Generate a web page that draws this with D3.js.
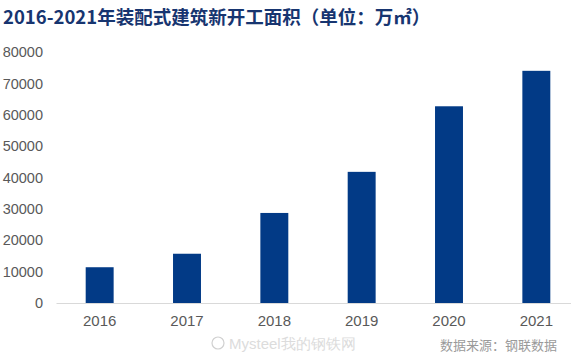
<!DOCTYPE html>
<html>
<head>
<meta charset="utf-8">
<script src="https://cdn.jsdelivr.net/npm/d3@7"></script>
<style>
body { margin: 0; background: #fff; }
svg { display: block; }
</style>
</head>
<body>
<svg id="chart"></svg>
<script>
var width = 571;
var height = 359;

var years = ["2016", "2017", "2018", "2019", "2020", "2021"];
var area = [11400, 15700, 28700, 41800, 62700, 74000];
var yTicks = [0, 10000, 20000, 30000, 40000, 50000, 60000, 70000, 80000];

var svg = d3.select("#chart")
	.attr("width", width)
	.attr("height", height);

var x = d3.scaleBand()
	.domain(years)
	.range([56, 580])
	.paddingInner(0.68)
	.paddingOuter(0.34);

var y = d3.scaleLinear()
	.domain([0, 80000])
	.range([303, 52]);

// title
svg.append("text")
	.attr("x", 3)
	.attr("y", 24)
	.attr("fill", "#173570")
	.style("font-family", "'Noto Sans CJK SC', 'Liberation Sans', sans-serif")
	.style("font-weight", "bold")
	.style("font-size", "18.5px")
	.text("2016-2021年装配式建筑新开工面积（单位：万㎡）");

// y axis labels only
var yAxis = d3.axisLeft(y).tickValues(yTicks).tickFormat(d3.format("d")).tickSize(0).tickPadding(0);
var yAxisGroup = svg.append("g")
	.attr("transform", "translate(43,0)")
	.call(yAxis);
yAxisGroup.select(".domain").remove();
yAxisGroup.selectAll("text")
	.attr("fill", "#595959")
	.style("font-family", "'Liberation Sans', Arial, sans-serif")
	.style("font-size", "14.5px");

// bars
svg.selectAll("rect.bar")
	.data(years)
	.enter()
	.append("rect")
	.attr("class", "bar")
	.attr("x", d => x(d))
	.attr("width", x.bandwidth())
	.attr("y", (d, i) => y(area[i]))
	.attr("height", (d, i) => y(0) - y(area[i]))
	.attr("fill", "#023a86");

// x axis
var xAxis = d3.axisBottom(x).tickSize(0).tickPadding(12);
var xAxisGroup = svg.append("g")
	.attr("transform", "translate(0," + y(0) + ")")
	.call(xAxis);
xAxisGroup.select(".domain")
	.attr("stroke", "#d9d9d9")
	.attr("stroke-width", 1);
xAxisGroup.selectAll("text")
	.attr("fill", "#595959")
	.style("font-family", "'Liberation Sans', Arial, sans-serif")
	.style("font-size", "15px");

// watermark
svg.append("circle")
	.attr("cx", 218)
	.attr("cy", 343)
	.attr("r", 6)
	.attr("fill", "none")
	.attr("stroke", "#d0d0d0")
	.attr("stroke-width", 1.2);
svg.append("text")
	.attr("x", 229)
	.attr("y", 349)
	.attr("fill", "#dcdcdc")
	.style("font-family", "'Liberation Sans', sans-serif")
	.style("font-size", "15px")
	.text("Mysteel我的钢铁网");

// source
svg.append("text")
	.attr("x", 557)
	.attr("y", 350)
	.attr("text-anchor", "end")
	.attr("fill", "#9a9a9a")
	.style("font-family", "'Noto Sans CJK SC', sans-serif")
	.style("font-size", "13px")
	.text("数据来源：钢联数据");
</script>
</body>
</html>
